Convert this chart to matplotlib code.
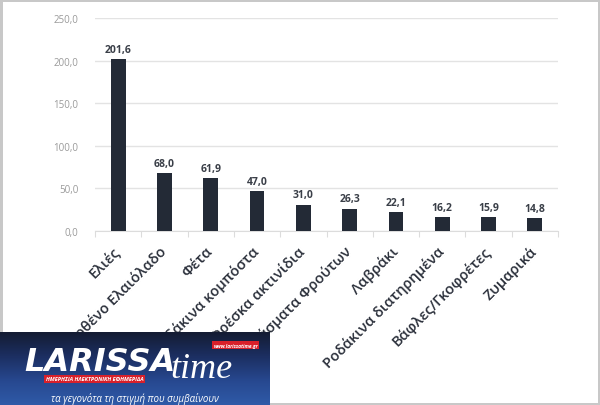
import numpy as np
import matplotlib
matplotlib.use("Agg")
import matplotlib.pyplot as plt

plt.rcParams['font.family'] = ['Open Sans', 'DejaVu Sans']

# data
products = ['Ελιές', 'Εξαιρετικά Παρθένο Ελαιόλαδο', 'Φέτα', 'Ροδάκινα κομπόστα',
            'Φρέσκα ακτινίδια', 'Παρασκευάσματα Φρούτων', 'Λαβράκι',
            'Ροδάκινα διατηρημένα', 'Βάφλες/Γκοφρέτες', 'Ζυμαρικά']
values = [201.6, 68.0, 61.9, 47.0, 31.0, 26.3, 22.1, 16.2, 15.9, 14.8]
yticks = [0, 50, 100, 150, 200, 250]

W, H = 600, 406
fig = plt.figure(figsize=(W / 100, H / 100), dpi=100)
fig.patch.set_facecolor('white')
fig.patch.set_edgecolor('#c8c8c8')
fig.patch.set_linewidth(2.5)

ax = fig.add_axes([95 / W, 1 - 232 / H, (558 - 95) / W, (232 - 19) / H])
x = np.arange(len(products))
ax.bar(x, values, width=0.32, color='#232a36', zorder=3)
for xi, v in zip(x, values):
    ax.text(xi, v + 5, f'{v:.1f}'.replace('.', ','), ha='center', va='bottom',
            fontsize=7.5, fontweight='bold', color='#3a3f48')

ax.set_xlim(-0.5, len(products) - 0.5)
ax.set_ylim(0, 250)
ax.set_yticks(yticks)
ax.set_yticklabels([f'{t:.1f}'.replace('.', ',') for t in yticks],
                   fontsize=7, color='#9a9a9a')
ax.tick_params(axis='y', length=0, pad=12)
ax.grid(axis='y', color='#e3e3e3', linewidth=1, zorder=0)
for s in ['top', 'right', 'left']:
    ax.spines[s].set_visible(False)
ax.spines['bottom'].set_color('#dcdcdc')

# boundary tick marks, rotated category names
ax.set_xticks(np.arange(-0.5, len(products), 1.0))
ax.set_xticklabels([])
ax.tick_params(axis='x', length=4, color='#dcdcdc')
for xi, name in zip(x, products):
    ax.annotate(name, xy=(xi, 0), xycoords='data', xytext=(-4, -9),
                textcoords='offset points', rotation=45, ha='right', va='top',
                rotation_mode='anchor', fontsize=10.5, fontweight='semibold',
                color='#2a2f3a')

# watermark logo box (dark navy on top, blue at the bottom)
lax = fig.add_axes([0, 0, 270 / W, 73 / H])
grad = np.linspace(0, 1, 100).reshape(-1, 1)
cmap = matplotlib.colors.LinearSegmentedColormap.from_list(
    'logo', ['#2f5aa8', '#27488f', '#1c2f62', '#141c33'])
lax.imshow(grad, aspect='auto', cmap=cmap, extent=[0, 1, 0, 1], origin='lower')
lax.set_xlim(0, 1)
lax.set_ylim(0, 1)
lax.axis('off')
lax.text(0.09, 0.6, 'LARISSA', color='white', fontsize=23, fontweight='bold',
         fontstyle='italic', va='center', ha='left', family=['DejaVu Sans'])
lax.text(0.63, 0.5, 'time', color='white', fontsize=26, fontstyle='italic',
         va='center', ha='left', family=['Liberation Serif'])
lax.text(0.17, 0.36, 'ΗΜΕΡΗΣΙΑ ΗΛΕΚΤΡΟΝΙΚΗ ΕΦΗΜΕΡΙΔΑ', color='white', fontsize=4,
         fontweight='bold', fontstyle='italic', va='center', ha='left',
         bbox=dict(boxstyle='square,pad=0.3', fc='#d8202a', ec='none'))
lax.text(0.79, 0.82, 'www.larissatime.gr', color='white', fontsize=3.5,
         fontweight='bold', fontstyle='italic', va='center', ha='left',
         bbox=dict(boxstyle='square,pad=0.3', fc='#d8202a', ec='none'))
lax.text(0.5, 0.1, 'τα γεγονότα τη στιγμή που συμβαίνουν', color='white',
         fontsize=7, fontstyle='italic', va='center', ha='center')

fig.savefig('out.png', dpi=100, facecolor=fig.get_facecolor(),
            edgecolor=fig.get_edgecolor())
